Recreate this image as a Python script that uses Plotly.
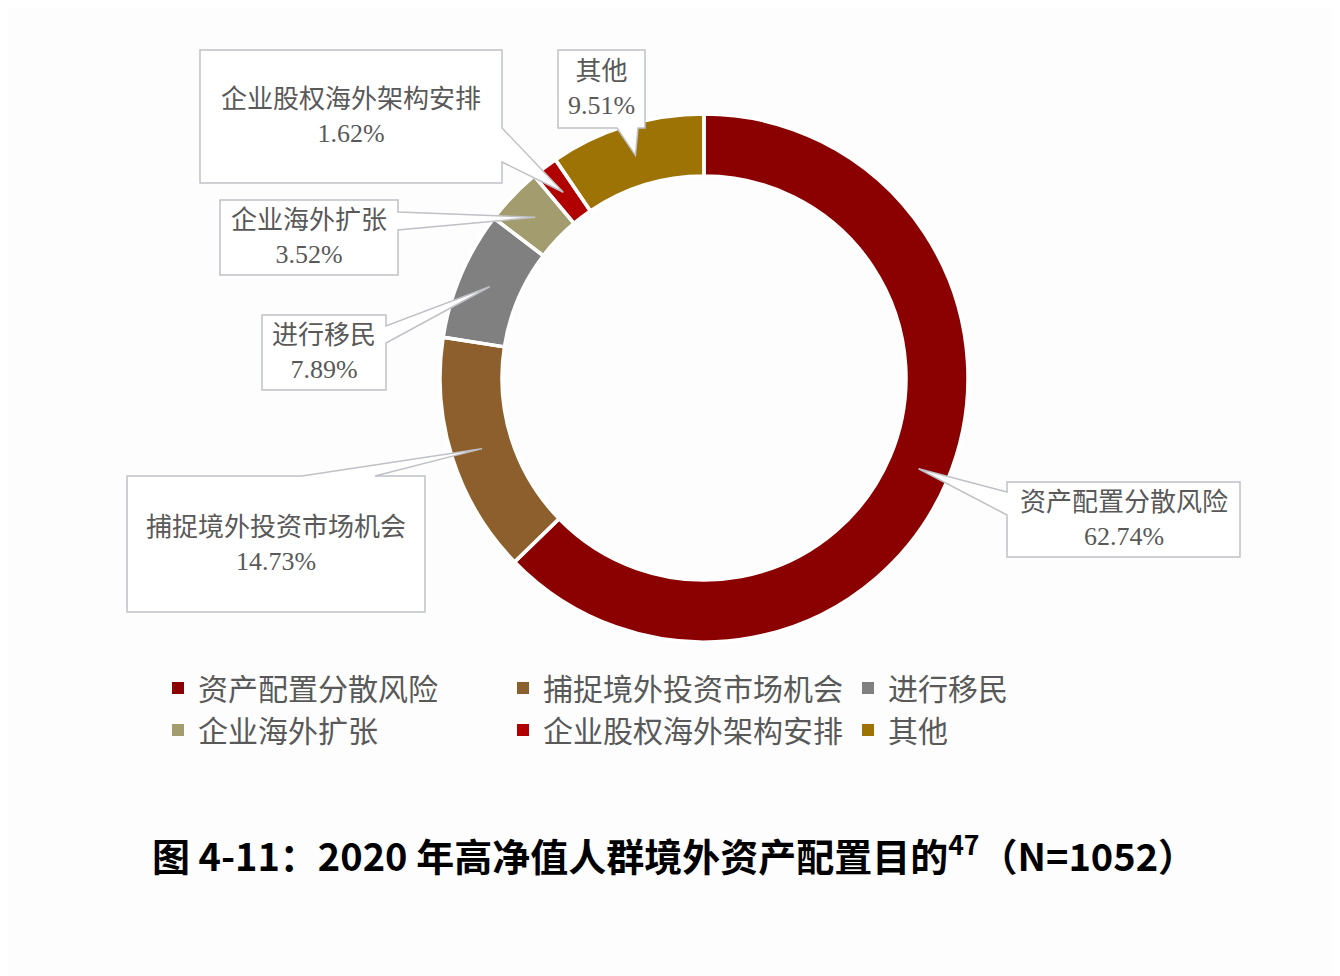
import math
import plotly.graph_objects as go

# Survey shares (N=1052), clockwise from 12 o'clock
labels = ["资产配置分散风险", "捕捉境外投资市场机会", "进行移民",
          "企业海外扩张", "企业股权海外架构安排", "其他"]
values = [62.74, 14.73, 7.89, 3.52, 1.62, 9.51]
colors = ["#8b0000", "#8c5f2c", "#808081", "#a29c6e", "#b00000", "#9c7304"]

W, H = 1340, 976
OFF = 8  # page body margin shifts the figure by 8px
CX, CY, R_OUT, R_IN = 704, 378, 264, 202


def fx(px):
    return (px - OFF) / W


def fy(py):
    return 1 - (py - OFF) / H


domain = dict(x=[fx(CX - R_OUT), fx(CX + R_OUT)],
              y=[fy(CY + R_OUT), fy(CY - R_OUT)])

fig = go.Figure()
# coloured ring (no outline, so legend squares stay full size)
fig.add_trace(go.Pie(
    labels=labels, values=values, hole=R_IN / R_OUT,
    sort=False, direction="clockwise", rotation=0,
    marker=dict(colors=colors, line=dict(width=0)),
    textinfo="none", hoverinfo="label+percent", domain=domain,
))
# white gaps between slices drawn as a transparent overlay
fig.add_trace(go.Pie(
    labels=labels, values=values, hole=R_IN / R_OUT,
    sort=False, direction="clockwise", rotation=0,
    marker=dict(colors=["rgba(0,0,0,0)"] * len(values),
                line=dict(color="white", width=3.5)),
    textinfo="none", hoverinfo="skip", showlegend=False, domain=domain,
))

# pointer tips sit in the middle of each slice's ring
total = sum(values)
r_mid = (R_OUT + R_IN) / 2
tips = []
cum = 0
for v in values:
    a = (cum + v / 2) / total * 2 * math.pi
    cum += v
    tips.append((CX + r_mid * math.sin(a), CY - r_mid * math.cos(a)))

# callout boxes: (left, top, right, bottom), side of pointer, pointer base span
boxes = [
    ((1007, 482, 1240, 557), "left", (492, 515)),
    ((127, 476, 425, 612), "top", (302, 375)),
    ((262, 315, 386, 390), "right", (326, 343)),
    ((220, 200, 398, 275), "right", (212, 230)),
    ((200, 50, 502, 183), "right", (128, 162)),
    ((558, 50, 645, 128), "bottom", (617, 638)),
]

for (box, side, (a, b)), tip, lab, val in zip(boxes, tips, labels, values):
    l, t, r, btm = box
    if side == "right":
        pts = [(l, t), (r, t), (r, a), tip, (r, b), (r, btm), (l, btm)]
    elif side == "left":
        pts = [(l, t), (r, t), (r, btm), (l, btm), (l, b), tip, (l, a)]
    elif side == "top":
        pts = [(l, t), (a, t), tip, (b, t), (r, t), (r, btm), (l, btm)]
    else:
        pts = [(l, t), (r, t), (r, btm), (b, btm), tip, (a, btm), (l, btm)]
    path = "M " + " L ".join(f"{fx(x):.5f},{fy(y):.5f}" for x, y in pts) + " Z"
    fig.add_shape(type="path", path=path, xref="paper", yref="paper",
                  fillcolor="white", line=dict(color="#bfc1c6", width=1.5),
                  layer="above")
    fig.add_annotation(
        x=fx((l + r) / 2), y=fy((t + btm) / 2), xref="paper", yref="paper",
        xanchor="center", yanchor="middle",
        text=f"{lab}<br>{val:.2f}%", showarrow=False,
        font=dict(family="Liberation Serif, Noto Sans CJK SC", size=26, color="#595959"),
    )

fig.update_layout(
    width=W, height=H,
    margin=dict(l=0, r=0, t=0, b=0),
    paper_bgcolor="#fdfdfd",
    plot_bgcolor="#fdfdfd",
    showlegend=True,
    legend=dict(
        orientation="h", x=fx(158), y=fy(662), xanchor="left", yanchor="top",
        font=dict(family="Noto Sans CJK SC", size=30, color="#595959"),
        entrywidth=300, bgcolor="rgba(0,0,0,0)",
    ),
    title=dict(
        text="<b>图 4-11：2020 年高净值人群境外资产配置目的<sup>47</sup>（N=1052）</b>",
        x=fx(674), y=fy(858), xanchor="center", yanchor="middle",
        font=dict(family="Noto Sans CJK SC", size=38, color="black"),
    ),
)

fig.write_html("out.html")
